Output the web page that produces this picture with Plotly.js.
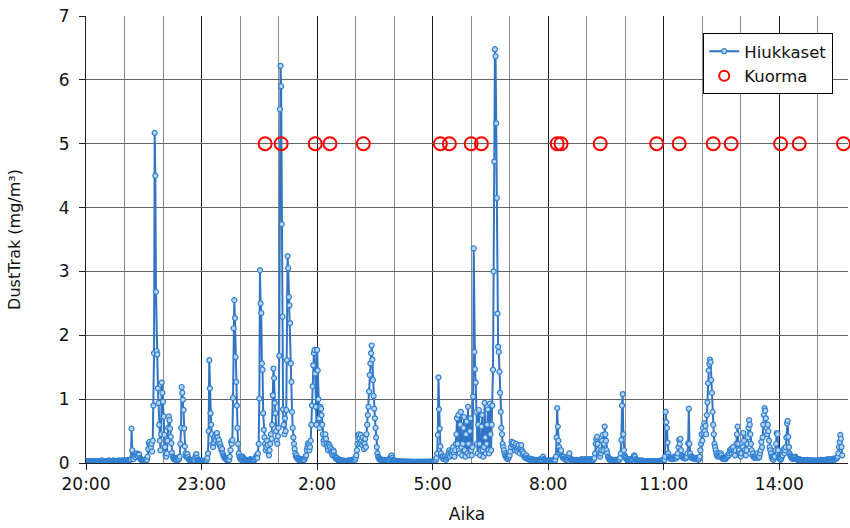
<!DOCTYPE html>
<html><head><meta charset="utf-8">
<script src="https://cdn.plot.ly/plotly-3.0.1.min.js"></script>
<style>html,body{margin:0;padding:0;background:#fff}</style>
</head><body><div id="chart" style="width:850px;height:528px"></div>
<script>
// DustTrak readings, one value per minute, starting 20:00 (one array per clock hour)
const h20 = [0.03,0.02,0.02,0.03,0.02,0.01,0.02,0.02,0.03,0.02, 0.02,0.03,0.02,0.02,0.01,0.02,0.03,0.02,0.02,0.02, 0.03,0.02,0.02,0.03,0.04,0.03,0.02,0.02,0.03,0.02, 0.02,0.03,0.03,0.02,0.02,0.03,0.04,0.03,0.02,0.03, 0.02,0.03,0.03,0.04,0.03,0.02,0.03,0.03,0.02,0.03, 0.03,0.04,0.03,0.03,0.02,0.03,0.04,0.03,0.03,0.04];
const h21 = [0.03,0.03,0.04,0.03,0.03,0.04,0.04,0.05,0.04,0.05,0.06, 0.54, 0.2,0.08,0.06,0.12,0.14,0.09,0.13,0.15, 0.12,0.1,0.14,0.13,0.08,0.06,0.05,0.04,0.05,0.04, 0.03,0.04,0.05,0.04,0.06,0.05,0.1,0.22,0.31,0.33, 0.28,0.25,0.3,0.18,0.35,0.9,1.72,5.17,4.5,2.68, 1.75,1.7,1.17,0.94,0.6,0.35,0.2,0.45,1.26,1.1];
const h22 = [0.96,0.73,0.44,0.25,0.12,0.1,0.15,0.35,0.55,0.73, 0.67,0.54,0.41,0.31,0.16,0.1,0.08,0.06,0.07,0.05, 0.06,0.05,0.08,0.06,0.05,0.07,0.1,0.3,0.55,1.19, 1.1,0.99,0.83,0.54,0.26,0.15,0.1,0.12,0.14,0.09, 0.06,0.05,0.04,0.03,0.04,0.03,0.05,0.04,0.03,0.05, 0.08,0.12,0.14,0.08,0.05,0.04,0.03,0.04,0.03,0.03];
const h23 = [0.04,0.03,0.02,0.03,0.02,0.03,0.04,0.03,0.05,0.08, 0.15,0.5,1.61,1.17,0.78,0.6,0.45,0.3,0.25,0.32, 0.38,0.42,0.35,0.45,0.47,0.4,0.33,0.36,0.28,0.3, 0.25,0.2,0.22,0.15,0.12,0.1,0.08,0.07,0.06,0.05, 0.05,0.04,0.06,0.05,0.1,0.2,0.33,0.3,0.36,1.02, 2.11,2.55,2.27,1.66,1.27,0.9,0.55,0.3,0.15,0.1];
const h00 = [0.08,0.06,0.05,0.07,0.1,0.08,0.06,0.05,0.04,0.05, 0.04,0.05,0.03,0.04,0.05,0.04,0.06,0.05,0.04,0.03, 0.04,0.05,0.04,0.06,0.08,0.1,0.12,0.08,0.15,0.3, 1.01,3.02,2.5,2.35,1.56,1.46,0.78,0.52,0.4,0.3, 0.2,0.25,0.35,0.28,0.18,0.12,0.2,0.3,0.45,0.38, 0.6,1.06,1.48,1.33,0.94,0.78,0.5,0.35,0.3,0.42];
const h01 = [0.55,1.68,5.54,6.22,5.9,3.74,2.29,0.84,0.6,0.45, 0.7,0.5,0.83,1.61,3.24,3.05,2.6,2.47,2.19,1.56, 1.27,0.8,0.55,0.4,0.3,0.22,0.15,0.1,0.12,0.08, 0.06,0.05,0.07,0.05,0.04,0.06,0.05,0.04,0.05,0.06, 0.05,0.08,0.1,0.12,0.2,0.25,0.31,0.28,0.2,0.25, 0.35,0.6,0.9,1.2,1.53,1.72,1.77,1.4,0.88,0.6];
const h02 = [1.77,1.45,1.0,0.7,0.55,0.88,0.85,0.75,0.6,0.45, 0.35,0.3,0.4,0.45,0.38,0.3,0.25,0.2,0.3,0.28, 0.25,0.2,0.22,0.15,0.12,0.2,0.18,0.12,0.1,0.08, 0.06,0.08,0.05,0.06,0.04,0.05,0.04,0.03,0.04,0.03, 0.03,0.04,0.03,0.02,0.03,0.03,0.02,0.03,0.04,0.03, 0.03,0.04,0.03,0.05,0.04,0.03,0.05,0.04,0.06,0.05];
const h03 = [0.08,0.12,0.2,0.3,0.42,0.45,0.38,0.3,0.44,0.35, 0.28,0.4,0.32,0.22,0.3,0.38,0.25,0.45,0.6,0.75, 0.88,1.12,1.38,1.56,1.72,1.84,1.62,1.3,1.05,0.85, 0.7,0.55,0.4,0.25,0.15,0.1,0.08,0.06,0.05,0.06, 0.05,0.04,0.05,0.04,0.03,0.04,0.05,0.04,0.03,0.04, 0.04,0.05,0.04,0.06,0.08,0.1,0.12,0.08,0.05,0.04];
const h04 = [0.04,0.03,0.03,0.02,0.03,0.02,0.02,0.03,0.02,0.02, 0.02,0.02,0.01,0.02,0.02,0.01,0.02,0.02,0.01,0.02, 0.01,0.02,0.01,0.01,0.02,0.01,0.01,0.02,0.01,0.01, 0.01,0.01,0.02,0.01,0.01,0.01,0.02,0.01,0.01,0.01, 0.01,0.02,0.01,0.01,0.01,0.01,0.02,0.01,0.01,0.02, 0.01,0.01,0.02,0.01,0.01,0.02,0.01,0.01,0.02,0.01];
const h05 = [0.02,0.03,0.02,0.04,0.03,0.05,0.08,0.15,0.44,1.34, 0.84,0.54,0.26,0.15,0.1,0.08,0.1,0.06,0.08,0.1, 0.06,0.05,0.08,0.1,0.12,0.15,0.2,0.1,0.15,0.18, 0.12,0.2,0.25,0.15,0.1,0.2,0.3,0.45,0.7,0.3, 0.75,0.2,0.15,0.6,0.8,0.25,0.12,0.3,0.55,0.72, 0.2,0.1,0.45,0.65,0.15,0.88,0.3,0.12,0.5,0.7];
const h06 = [0.2,0.12,0.25,1.04,3.36,1.74,1.47,1.26,0.8,0.3, 0.15,0.6,0.83,0.3,0.12,0.2,0.57,0.75,0.2,0.1, 0.25,0.94,0.4,0.15,0.3,0.6,0.84,0.2,0.15,0.93, 0.45,0.2,0.6,0.9,1.46,3.0,4.72,6.48,6.37,5.32, 4.15,2.34,1.82,1.74,1.43,1.1,0.8,0.55,0.45,0.3, 0.25,0.2,0.15,0.12,0.1,0.08,0.07,0.06,0.08,0.1];
const h07 = [0.12,0.18,0.25,0.33,0.3,0.28,0.32,0.25,0.2,0.26, 0.3,0.22,0.18,0.25,0.28,0.2,0.15,0.22,0.28,0.2, 0.18,0.12,0.15,0.1,0.08,0.1,0.12,0.08,0.06,0.07, 0.06,0.05,0.07,0.05,0.04,0.06,0.05,0.04,0.05,0.04, 0.04,0.05,0.04,0.03,0.04,0.05,0.04,0.04,0.06,0.05, 0.05,0.08,0.1,0.06,0.05,0.04,0.03,0.04,0.03,0.03];
const h08 = [0.03,0.02,0.03,0.04,0.03,0.02,0.03,0.04,0.05,0.04, 0.03,0.05,0.1,0.4,0.86,0.57,0.35,0.25,0.2,0.15, 0.2,0.12,0.1,0.08,0.1,0.07,0.06,0.05,0.08,0.06, 0.05,0.08,0.1,0.15,0.08,0.06,0.05,0.04,0.05,0.04, 0.04,0.05,0.04,0.03,0.04,0.05,0.04,0.03,0.04,0.04, 0.05,0.04,0.06,0.04,0.05,0.04,0.05,0.06,0.04,0.05];
const h09 = [0.04,0.05,0.04,0.06,0.05,0.04,0.05,0.06,0.05,0.04, 0.05,0.06,0.08,0.15,0.3,0.38,0.41,0.3,0.2,0.15, 0.12,0.1,0.15,0.2,0.35,0.44,0.2,0.3,0.57,0.45, 0.35,0.2,0.15,0.1,0.08,0.06,0.05,0.06,0.04,0.05, 0.04,0.05,0.04,0.03,0.04,0.05,0.04,0.03,0.04,0.05, 0.06,0.05,0.08,0.15,0.36,0.9,1.08,0.45,0.2,0.12];
const h10 = [0.1,0.08,0.06,0.05,0.04,0.05,0.04,0.06,0.05,0.04, 0.05,0.06,0.08,0.1,0.12,0.1,0.06,0.05,0.04,0.03, 0.04,0.03,0.04,0.03,0.02,0.03,0.04,0.03,0.02,0.03, 0.03,0.02,0.03,0.02,0.03,0.02,0.01,0.02,0.02,0.03, 0.02,0.03,0.02,0.02,0.03,0.02,0.02,0.03,0.02,0.02, 0.03,0.02,0.03,0.03,0.02,0.03,0.04,0.03,0.04,0.04];
const h11 = [0.04,0.05,0.1,0.8,0.64,0.55,0.32,0.15,0.1,0.08, 0.07,0.06,0.08,0.07,0.06,0.08,0.1,0.08,0.07,0.08, 0.08,0.1,0.15,0.25,0.36,0.3,0.38,0.2,0.12,0.1, 0.08,0.1,0.08,0.07,0.09,0.08,0.1,0.15,0.31,0.85, 0.3,0.15,0.1,0.08,0.1,0.08,0.07,0.08,0.06,0.07, 0.06,0.08,0.07,0.06,0.05,0.07,0.1,0.2,0.3,0.45];
const h12 = [0.35,0.55,0.47,0.62,0.5,0.58,0.45,0.75,0.95,1.25, 1.45,1.55,1.62,1.58,1.3,1.1,0.8,0.6,0.45,0.3, 0.25,0.2,0.15,0.12,0.1,0.12,0.15,0.12,0.1,0.15, 0.12,0.08,0.07,0.06,0.08,0.07,0.06,0.08,0.1,0.12, 0.1,0.12,0.15,0.2,0.18,0.22,0.15,0.2,0.25,0.18, 0.15,0.12,0.2,0.3,0.45,0.57,0.3,0.2,0.15,0.12];
const h13 = [0.1,0.15,0.3,0.25,0.47,0.35,0.2,0.15,0.12,0.2, 0.3,0.4,0.55,0.67,0.6,0.45,0.3,0.2,0.12,0.15, 0.1,0.08,0.1,0.12,0.08,0.1,0.15,0.1,0.08,0.1, 0.15,0.2,0.33,0.25,0.4,0.6,0.75,0.86,0.82,0.7, 0.55,0.45,0.6,0.5,0.35,0.25,0.2,0.15,0.1,0.08, 0.06,0.05,0.08,0.1,0.2,0.3,0.47,0.45,0.2,0.1];
const h14 = [0.08,0.06,0.05,0.07,0.1,0.12,0.18,0.22,0.15,0.2, 0.25,0.4,0.62,0.66,0.41,0.25,0.15,0.12,0.1,0.08, 0.07,0.06,0.08,0.07,0.08,0.1,0.08,0.06,0.05,0.06, 0.05,0.06,0.05,0.04,0.05,0.04,0.03,0.04,0.05,0.04, 0.04,0.03,0.04,0.05,0.04,0.03,0.04,0.03,0.04,0.03, 0.03,0.04,0.03,0.04,0.03,0.02,0.03,0.04,0.03,0.03];
const h15 = [0.03,0.04,0.03,0.04,0.03,0.04,0.05,0.04,0.03,0.04, 0.04,0.05,0.04,0.05,0.04,0.05,0.06,0.05,0.04,0.05, 0.05,0.06,0.05,0.06,0.07,0.06,0.05,0.06,0.07,0.08, 0.08,0.1,0.15,0.25,0.33,0.44,0.38,0.25,0.12];

// Load events (Kuorma), next morning
const kuormaTimes = ['00:39','01:04','01:57','02:20','03:12','05:12','05:26','06:00','06:16','08:14','08:20','09:21','10:49','11:24','12:17','12:45','14:02','14:31','15:40'];
const kuormaValues = [5,5,5,5,5,5,5,5,5,5,5,5,5,5,5,5,5,5,5];

const hourBlocks = [h20,h21,h22,h23,h00,h01,h02,h03,h04,h05,h06,h07,h08,h09,h10,h11,h12,h13,h14,h15];
const dust = [].concat(...hourBlocks);
const pad = n => (n < 10 ? '0' : '') + n;
function minuteStamp(i) {
  const total = 20 * 60 + i;
  const day = 1 + Math.floor(total / 1440);
  const mm = total % 1440;
  return '2000-01-0' + day + ' ' + pad(Math.floor(mm / 60)) + ':' + pad(mm % 60);
}
const dustTimes = dust.map((_, i) => minuteStamp(i));
const kuormaStamps = kuormaTimes.map(t => (parseInt(t, 10) >= 20 ? '2000-01-01 ' : '2000-01-02 ') + t);

const font = {family: 'DejaVu Sans, Verdana, sans-serif', size: 17, color: '#111'};
const kuormaStyle = {symbol: 'circle-open', color: '#ff0000'};

const traces = [
  {
    type: 'scatter', mode: 'lines+markers', name: 'Hiukkaset',
    x: dustTimes, y: dust,
    line: {color: '#3274c4', width: 2},
    marker: {symbol: 'circle', size: 5, color: '#b9d6f2', line: {color: '#2f7fd2', width: 1.2}}
  },
  {
    type: 'scatter', mode: 'markers', name: 'Kuorma', showlegend: false,
    x: kuormaStamps, y: kuormaValues, cliponaxis: false,
    marker: {symbol: kuormaStyle.symbol, size: 13, color: kuormaStyle.color, line: {color: kuormaStyle.color, width: 2}}
  },
  {
    // legend entry for Kuorma (smaller symbol, as in the original legend)
    type: 'scatter', mode: 'markers', name: 'Kuorma', x: [null], y: [null],
    marker: {symbol: kuormaStyle.symbol, size: 10, color: kuormaStyle.color, line: {color: kuormaStyle.color, width: 2}}
  }
];

const layout = {
  width: 850, height: 528,
  margin: {l: 86, r: 2, t: 16, b: 65},
  paper_bgcolor: '#fff', plot_bgcolor: '#fff',
  font: font,
  showlegend: true,
  legend: {
    x: 0.81, y: 0.962, xanchor: 'left', yanchor: 'top',
    bgcolor: '#fff', bordercolor: '#000', borderwidth: 1,
    font: {family: font.family, size: 16.5, color: '#111'}, tracegroupgap: 0, itemwidth: 30
  },
  xaxis: {
    type: 'date',
    range: ['2000-01-01 20:00', '2000-01-02 15:47'],
    tick0: '2000-01-01 20:00', dtick: 3 * 3600000,
    tickformat: '%-H:%M',
    ticks: 'outside', ticklen: 6, tickcolor: '#222',
    showline: true, linecolor: '#222', linewidth: 1,
    showgrid: true, gridcolor: '#1a1a1a', gridwidth: 1,
    minor: {dtick: 3600000, showgrid: true, gridcolor: '#8c8c8c', gridwidth: 1, ticks: ''},
    zeroline: false,
    tickfont: font,
    title: {text: 'Aika', font: font, standoff: 14}
  },
  yaxis: {
    range: [0, 7], dtick: 1, tick0: 0,
    ticks: 'outside', ticklen: 6, tickcolor: '#222',
    ticklabelstandoff: 6,
    showline: true, linecolor: '#222', linewidth: 1,
    showgrid: true, gridcolor: '#666', gridwidth: 1,
    zeroline: false,
    tickfont: font,
    title: {text: 'DustTrak (mg/m³)', font: {family: font.family, size: 16, color: '#111'}, standoff: 34}
  }
};

Plotly.newPlot('chart', traces, layout, {staticPlot: true, displayModeBar: false});
</script>
</body></html>
